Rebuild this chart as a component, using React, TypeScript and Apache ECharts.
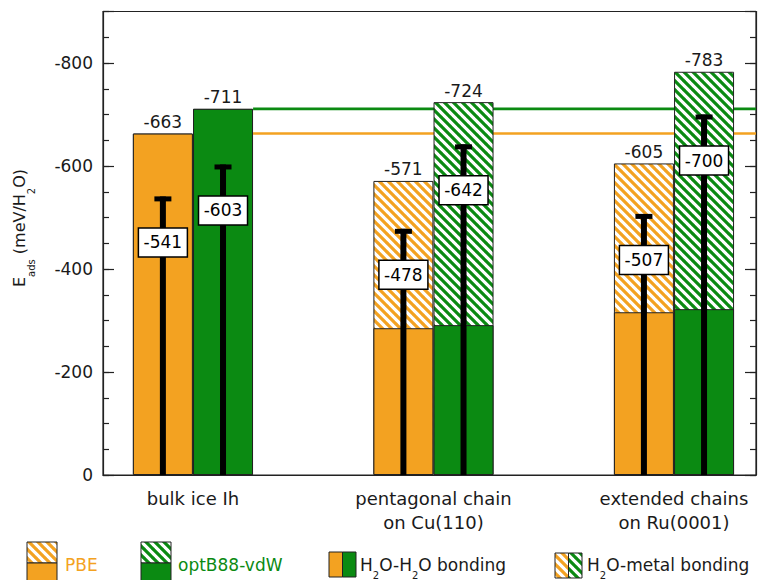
import React, { useEffect, useRef } from 'react';
import * as echarts from 'echarts';

// ---- data ----
const categories = ['bulk ice Ih', 'pentagonal chain\non Cu(110)', 'extended chains\non Ru(0001)'];
const pbeTotal = [-663, -571, -605];
const optTotal = [-711, -724, -783];
const pbeWaterWater = [-663, -285, -316];
const optWaterWater = [-711, -291, -322];
const pbeMarked = [-541, -478, -507];
const optMarked = [-603, -642, -700];

const ORANGE = '#F3A221';
const GREEN = '#0B8A12';
const INK = '#1a1a1a';
const FONT = 'DejaVu Sans';

const X_MIN = 0.626;
const X_MAX = 3.341;
const HALF = 0.125;
const BAR_W = 60;

const xPos = (i: number, side: number) => i + 1 + side * HALF;

function hatch(color: string) {
  const P = 9;
  const svg =
    `<svg xmlns='http://www.w3.org/2000/svg' width='${P}' height='${P}'>` +
    `<rect width='${P}' height='${P}' fill='#ffffff'/>` +
    `<path d='M-1 -1L${P + 1} ${P + 1}M${-P - 1} -1L1 ${P + 1}M${P - 1} -1L${2 * P + 1} ${P + 1}' stroke='${color}' stroke-width='3.2' fill='none'/>` +
    `</svg>`;
  return {
    image: 'data:image/svg+xml;charset=utf-8,' + encodeURIComponent(svg),
    repeat: 'repeat',
    imageWidth: P,
    imageHeight: P,
  };
}

function barSeries(values: number[], side: number, color: any) {
  return {
    type: 'bar',
    data: values.map((v, i) => [xPos(i, side), v]),
    barWidth: BAR_W,
    barGap: '-100%',
    itemStyle: { color, borderColor: '#222', borderWidth: 1 },
    emphasis: { disabled: true },
    silent: true,
    z: 2,
  };
}

function refLine(value: number, color: string) {
  return {
    type: 'line',
    data: [[xPos(0, 1) + HALF, value], [X_MAX, value]],
    showSymbol: false,
    symbol: 'none',
    lineStyle: { color, width: 2.6 },
    silent: true,
    z: 1,
  };
}

const yMajor = (position: string, labels: boolean) => ({
  type: 'value',
  position,
  min: -900,
  max: 0,
  splitNumber: 5,
  inverse: true,
  axisLine: { show: true, lineStyle: { color: '#222', width: 1.2 } },
  axisTick: { show: true, inside: true, length: 11, lineStyle: { color: '#222', width: 1.2 } },
  axisLabel: {
    show: labels,
    margin: 10,
    fontSize: 17,
    fontFamily: FONT,
    color: INK,
    formatter: (v: number) => (v === -900 ? '' : String(v)),
  },
  splitLine: { show: false },
});

const yMinor = (position: string) => ({
  type: 'value',
  position,
  min: -900,
  max: 0,
  interval: 50,
  inverse: true,
  axisLine: { show: false },
  axisTick: { show: true, inside: true, length: 6, lineStyle: { color: '#222', width: 1.2 } },
  axisLabel: { show: false },
  splitLine: { show: false },
});

const subRich = (main: number, sub: number, L: number) => ({
  m: { fontSize: main, fontFamily: FONT, fill: INK, lineHeight: L, verticalAlign: 'middle' },
  s: { fontSize: sub, fontFamily: FONT, fill: INK, lineHeight: sub, verticalAlign: 'bottom' },
});

function legendText(x: number, y: number, text: string, fill: string) {
  return {
    type: 'text',
    x,
    y,
    style: { text, fill, fontSize: 17, fontFamily: FONT, align: 'left', verticalAlign: 'middle' },
  };
}

const option: any = {
  animation: false,
  grid: {
    left: 103,
    right: 9,
    top: 11.5,
    bottom: 105,
    show: true,
    borderColor: '#222',
    borderWidth: 1.2,
    backgroundColor: 'transparent',
    containLabel: false,
    outerBoundsMode: 'none',
  },
  xAxis: {
    type: 'value',
    min: X_MIN,
    max: X_MAX,
    axisLine: { show: true, lineStyle: { color: '#222', width: 1.2 } },
    axisTick: { show: false },
    splitLine: { show: false },
    axisLabel: {
      customValues: categories.map((_, i) => i + 1),
      formatter: (v: number) => categories[Math.round(v) - 1] || '',
      fontSize: 18,
      lineHeight: 24,
      fontFamily: FONT,
      color: INK,
      margin: 11,
    },
  },
  yAxis: [yMajor('left', true), yMinor('left'), yMajor('right', false), yMinor('right')],
  series: [
    refLine(optTotal[0], GREEN),
    refLine(pbeTotal[0], ORANGE),
    barSeries(pbeTotal, -1, hatch(ORANGE)),
    barSeries(optTotal, 1, hatch(GREEN)),
    barSeries(pbeWaterWater, -1, ORANGE),
    barSeries(optWaterWater, 1, GREEN),
    {
      type: 'custom',
      silent: true,
      z: 10,
      data: [
        ...pbeMarked.map((v, i) => [xPos(i, -1), v]),
        ...optMarked.map((v, i) => [xPos(i, 1), v]),
      ],
      renderItem: (params: any, api: any) => {
        const x = api.value(0);
        const v = api.value(1);
        const base = api.coord([x, 0]);
        const top = api.coord([x, v]);
        const cy = top[1] + 46;
        return {
          type: 'group',
          children: [
            { type: 'rect', shape: { x: top[0] - 3, y: top[1], width: 6, height: base[1] - top[1] }, style: { fill: '#000' } },
            { type: 'rect', shape: { x: top[0] - 8.5, y: top[1], width: 17, height: 5 }, style: { fill: '#000' } },
            { type: 'rect', shape: { x: top[0] - 24.5, y: cy - 14.5, width: 49, height: 29 }, style: { fill: '#fff', stroke: '#000', lineWidth: 1.5 } },
            { type: 'text', style: { text: String(v), x: top[0], y: cy, align: 'center', verticalAlign: 'middle', fontSize: 17, fontFamily: FONT, fill: '#000' } },
          ],
        };
      },
    },
    {
      type: 'custom',
      silent: true,
      z: 10,
      data: [
        ...pbeTotal.map((v, i) => [xPos(i, -1), v]),
        ...optTotal.map((v, i) => [xPos(i, 1), v]),
      ],
      renderItem: (params: any, api: any) => {
        const x = api.value(0);
        const v = api.value(1);
        const top = api.coord([x, v]);
        return {
          type: 'text',
          style: { text: String(v), x: top[0], y: top[1] - 11.5, align: 'center', verticalAlign: 'middle', fontSize: 17, fontFamily: FONT, fill: INK },
        };
      },
    },
  ],
  graphic: {
    elements: [
      // y axis title
      {
        type: 'text',
        x: 19,
        y: 228,
        rotation: Math.PI / 2,
        style: {
          text: '{m|E}{s|ads}{m| (meV/H}{s|2}{m|O)}',
          rich: subRich(16, 10, 34),
          align: 'center',
          verticalAlign: 'middle',
        },
      },
      // PBE
      { type: 'rect', shape: { x: 27, y: 542, width: 30, height: 21 }, style: { fill: hatch(ORANGE), stroke: '#222', lineWidth: 1 } },
      { type: 'rect', shape: { x: 27, y: 563, width: 30, height: 20 }, style: { fill: ORANGE, stroke: '#222', lineWidth: 1 } },
      legendText(65, 565, 'PBE', ORANGE),
      // optB88-vdW
      { type: 'rect', shape: { x: 141, y: 542, width: 30, height: 21 }, style: { fill: hatch(GREEN), stroke: '#222', lineWidth: 1 } },
      { type: 'rect', shape: { x: 141, y: 563, width: 30, height: 20 }, style: { fill: GREEN, stroke: '#222', lineWidth: 1 } },
      legendText(178, 565, 'optB88-vdW', GREEN),
      // H2O-H2O bonding
      { type: 'rect', shape: { x: 329, y: 552, width: 13.5, height: 25 }, style: { fill: ORANGE, stroke: '#222', lineWidth: 1 } },
      { type: 'rect', shape: { x: 342.5, y: 552, width: 13.5, height: 25 }, style: { fill: GREEN, stroke: '#222', lineWidth: 1 } },
      {
        type: 'text',
        x: 360,
        y: 564.5,
        style: {
          text: '{m|H}{s|2}{m|O-H}{s|2}{m|O bonding}',
          rich: subRich(17, 10, 32),
          align: 'left',
          verticalAlign: 'middle',
        },
      },
      // H2O-metal bonding
      { type: 'rect', shape: { x: 555, y: 553, width: 13.5, height: 25 }, style: { fill: hatch(ORANGE), stroke: '#222', lineWidth: 1 } },
      { type: 'rect', shape: { x: 568.5, y: 553, width: 13.5, height: 25 }, style: { fill: hatch(GREEN), stroke: '#222', lineWidth: 1 } },
      {
        type: 'text',
        x: 587,
        y: 564.5,
        style: {
          text: '{m|H}{s|2}{m|O-metal bonding}',
          rich: subRich(17, 10, 32),
          align: 'left',
          verticalAlign: 'middle',
        },
      },
    ],
  },
};

export default function App() {
  const ref = useRef<HTMLDivElement>(null);
  useEffect(() => {
    const chart = echarts.init(ref.current!, null, { renderer: 'svg' });
    chart.setOption(option);
    return () => chart.dispose();
  }, []);
  return (
    <div
      ref={ref}
      style={{ position: 'fixed', left: 0, top: 0, width: 765, height: 580, background: '#fff' }}
    />
  );
}
